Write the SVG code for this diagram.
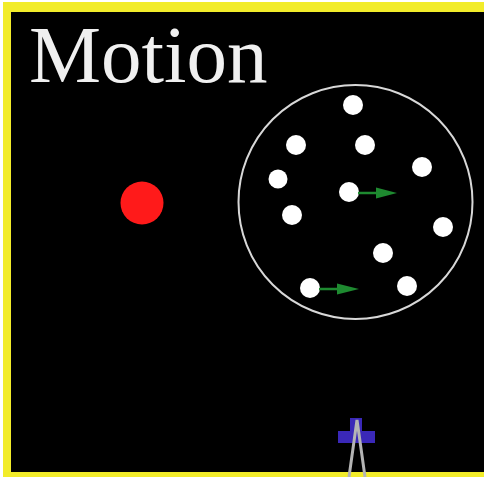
<svg xmlns="http://www.w3.org/2000/svg" width="484" height="477" viewBox="0 0 484 477">
<style>
.dot{fill:#ffffff}
.arr{stroke:#1e8a30;stroke-width:2.5;fill:none}
.head{fill:#1e8a30}
</style>
<rect x="0" y="0" width="484" height="477" fill="#ffffff"/>
<rect x="3" y="2" width="481" height="475" fill="#f2ec2a"/>
<rect x="11" y="12" width="473" height="460" fill="#000000"/>
<text x="29" y="82" font-family="Liberation Serif, serif" font-size="81" fill="#f0f0f0">Motion</text>
<g id="red-ball"><circle cx="142" cy="203" r="21.5" fill="#ff1a1a"/></g>
<g id="container">
<circle cx="355.5" cy="202" r="117" fill="none" stroke="#d8d8d8" stroke-width="2"/>
<circle class="dot" cx="353" cy="105" r="10"/>
<circle class="dot" cx="296" cy="145" r="10"/>
<circle class="dot" cx="365" cy="145" r="10"/>
<circle class="dot" cx="422" cy="167" r="10"/>
<circle class="dot" cx="278" cy="179" r="9.5"/>
<circle class="dot" cx="349" cy="192" r="10"/>
<circle class="dot" cx="292" cy="215" r="10"/>
<circle class="dot" cx="443" cy="227" r="10"/>
<circle class="dot" cx="383" cy="253" r="10"/>
<circle class="dot" cx="310" cy="288" r="10"/>
<circle class="dot" cx="407" cy="286" r="10"/>
</g>
<g id="connectors">
<line class="arr" x1="358" y1="193" x2="378" y2="193"/>
<polygon class="head" points="376,187.5 397,193 376,198.5"/>
<line class="arr" x1="319" y1="289" x2="339" y2="289"/>
<polygon class="head" points="337,283.5 359,289 337,294.5"/>
</g>
<g id="observer">
<rect x="338" y="431" width="37" height="12" fill="#3a28b8"/>
<rect x="350" y="418" width="12" height="25" fill="#3a28b8"/>
<polyline points="349,477 357,420 365,477" fill="none" stroke="#b4b4b4" stroke-width="3"/>
</g>
</svg>
